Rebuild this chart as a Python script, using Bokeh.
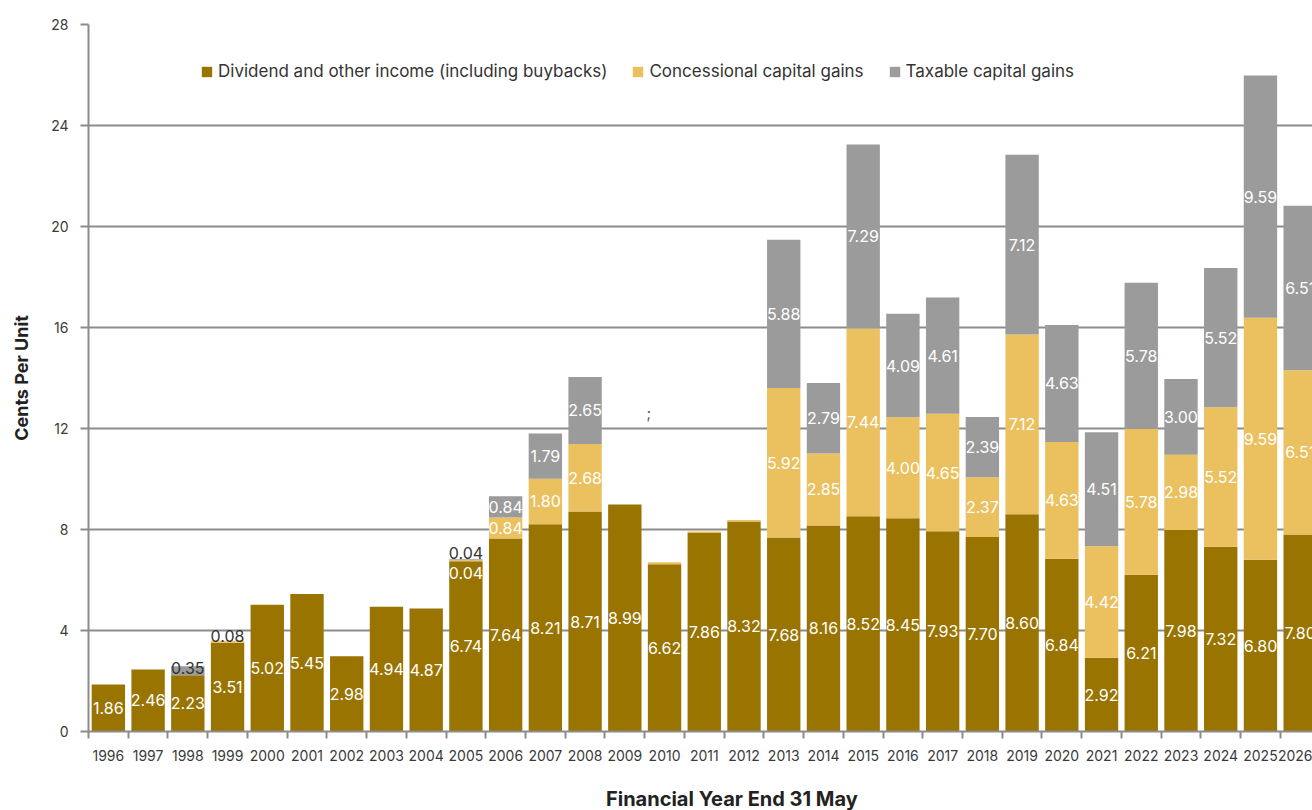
from bokeh.plotting import figure
from bokeh.layouts import column
from bokeh.models import (ColumnDataSource, FixedTicker, Legend, LegendItem, Div, Range1d)
from bokeh.core.properties import value
from bokeh.embed import file_html
from bokeh.resources import INLINE

years = list(range(1996, 2027))
dividend = [1.86, 2.46, 2.23, 3.51, 5.02, 5.45, 2.98, 4.94, 4.87, 6.74, 7.64, 8.21, 8.71, 8.99,
            6.62, 7.86, 8.32, 7.68, 8.16, 8.52, 8.45, 7.93, 7.70, 8.60, 6.84, 2.92, 6.21, 7.98,
            7.32, 6.80, 7.80]
concessional = [0, 0, 0, 0.08, 0, 0, 0, 0, 0, 0.04, 0.84, 1.80, 2.68, 0, 0.08, 0.06, 0.06,
                5.92, 2.85, 7.44, 4.00, 4.65, 2.37, 7.12, 4.63, 4.42, 5.78, 2.98, 5.52, 9.59, 6.51]
taxable = [0, 0, 0.35, 0, 0, 0, 0, 0, 0, 0.04, 0.84, 1.79, 2.65, 0, 0, 0, 0,
           5.88, 2.79, 7.29, 4.09, 4.61, 2.39, 7.12, 4.63, 4.51, 5.78, 3.00, 5.52, 9.59, 6.51]
series_names = ["Dividend and other income (including buybacks)",
                "Concessional capital gains", "Taxable capital gains"]
y_ticks = [0, 4, 8, 12, 16, 20, 24, 28]
# small segments whose labels are drawn above the bar (dark) or just inside (white)
small_above = [(1998, "taxable"), (1999, "concessional"), (2005, "taxable")]
small_inside = [(2005, "concessional")]

colors = ["#997400", "#EBC05E", "#9B9B9B"]
FONT = "Inter"

src = ColumnDataSource(dict(year=years, dividend=dividend, concessional=concessional,
                            taxable=taxable))

p = figure(width=1312, height=784, x_range=Range1d(1995.5, 2026.31), y_range=Range1d(0, 28),
           output_backend="svg", toolbar_location=None,
           min_border_left=88, min_border_right=0, min_border_top=24, min_border_bottom=53)
p.outline_line_color = None
p.background_fill_color = "white"

rs = p.vbar_stack(["dividend", "concessional", "taxable"], x="year", width=0.84, source=src,
                  color=colors, line_color=None)

# inside labels
lx, ly, lt = [], [], []
for i, yr in enumerate(years):
    base = 0.0
    for v in (dividend[i], concessional[i], taxable[i]):
        if v >= 0.5:
            lx.append(yr); ly.append(base + v / 2); lt.append(f"{v:.2f}")
        base += v
p.text(x=lx, y=ly, text=lt, text_color="white", text_font=value(FONT), text_font_size="16px",
       text_align="center", text_baseline="middle")

series_map = {"dividend": dividend, "concessional": concessional, "taxable": taxable}
order = ["dividend", "concessional", "taxable"]

def seg_base(yr, name):
    i = years.index(yr)
    return sum(series_map[n][i] for n in order[:order.index(name)])

ax, ay, at = [], [], []
for yr, name in small_above:
    ax.append(yr); ay.append(seg_base(yr, name)); at.append(f"{series_map[name][years.index(yr)]:.2f}")
p.text(x=ax, y=ay, text=at, text_color="#333333", text_font=value(FONT), text_font_size="16px",
       text_align="center", text_baseline="bottom", y_offset=-1)
ix, iy, it = [], [], []
for yr, name in small_inside:
    ix.append(yr); iy.append(seg_base(yr, name)); it.append(f"{series_map[name][years.index(yr)]:.2f}")
p.text(x=ix, y=iy, text=it, text_color="white", text_font=value(FONT), text_font_size="16px",
       text_align="center", text_baseline="top", y_offset=6)

# stray semicolon present in the original
p.text(x=[2009.6], y=[12.6], text=[";"], text_color="#555555", text_font=value(FONT),
       text_font_size="15px", text_align="center", text_baseline="middle")

# axes
xa = p.xaxis[0]
xa.ticker = FixedTicker(ticks=years, minor_ticks=[y - 0.5 for y in years] + [2026.5])
xa.major_tick_line_color = None
xa.minor_tick_line_color = "#8C8C8C"
xa.minor_tick_line_width = 2
xa.minor_tick_out = 7
xa.minor_tick_in = 0
xa.axis_line_color = "#8C8C8C"
xa.axis_line_width = 2
xa.major_label_text_font = FONT
xa.major_label_text_font_size = "14px"
xa.major_label_text_color = "#3A3A3A"
xa.major_label_standoff = 11

ya = p.yaxis[0]
ya.ticker = FixedTicker(ticks=y_ticks)
ya.minor_tick_line_color = None
ya.major_tick_line_color = "#8C8C8C"
ya.major_tick_line_width = 2
ya.major_tick_out = 8
ya.major_tick_in = 0
ya.axis_line_color = "#8C8C8C"
ya.axis_line_width = 2
ya.major_label_text_font = FONT
ya.major_label_text_font_size = "14px"
ya.major_label_text_color = "#3A3A3A"
ya.major_label_standoff = 12
ya.axis_label = "Cents Per Unit"
ya.axis_label_text_font = FONT
ya.axis_label_text_font_size = "18px"
ya.axis_label_text_font_style = "bold"
ya.axis_label_text_color = "#222222"
ya.axis_label_standoff = 16

p.xgrid.grid_line_color = None
p.ygrid.ticker = FixedTicker(ticks=y_ticks)
p.ygrid.grid_line_color = "#8C8C8C"
p.ygrid.grid_line_width = 2

legend = Legend(items=[LegendItem(label=n, renderers=[r]) for n, r in zip(series_names, rs)],
                orientation="horizontal", location=(112, 650), border_line_color=None,
                background_fill_alpha=0, padding=0, margin=0, spacing=24, label_standoff=5,
                glyph_width=13, glyph_height=13, label_text_font=FONT,
                label_text_font_size="17px", label_text_color="#333333")
p.add_layout(legend, "center")

xtitle = Div(text="Financial Year End 31 May", width=1312, height=24,
             styles={"font-family": "Inter", "font-size": "20px", "font-weight": "bold",
                     "color": "#222222", "line-height": "20px", "padding-left": "601px",
                     "white-space": "nowrap"})

layout = column(p, xtitle, spacing=0)
open("out.html", "w").write(file_html(layout, INLINE))
